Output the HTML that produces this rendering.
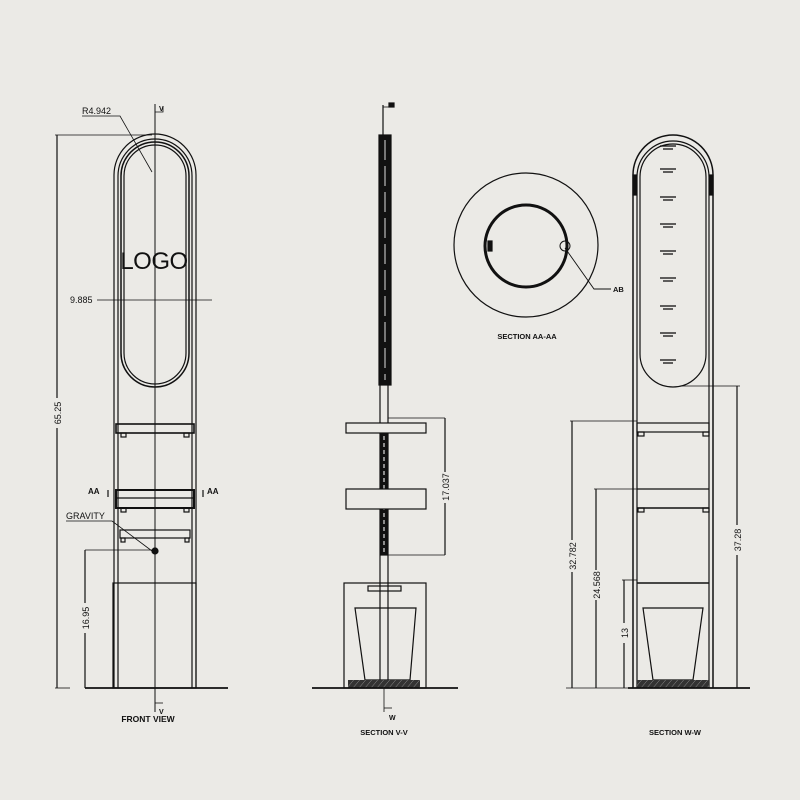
<!DOCTYPE html>
<html><head><meta charset="utf-8"><style>
html,body{margin:0;padding:0;background:#ebeae6;}
svg{display:block}
text{font-family:"Liberation Sans",sans-serif;fill:#111}
</style></head><body>
<svg width="800" height="800" viewBox="0 0 800 800" xmlns="http://www.w3.org/2000/svg">
<rect width="800" height="800" fill="#ebeae6"/>
<defs>
<pattern id="h" width="6" height="8" patternUnits="userSpaceOnUse" patternTransform="skewX(-40)">
<rect width="6" height="8" fill="#333"/><line x1="0" y1="0" x2="0" y2="8" stroke="#999" stroke-width="1"/>
</pattern>
</defs>
<g fill="none" stroke="#111" stroke-width="1.2">
<path d="M114,688 V175 A41,41 0 0 1 196,175 V688"/>
<path d="M118,688 V176 A37,37 0 0 1 192,176 V688"/>
<path d="M121,176 A34,34 0 0 1 189,176 V353 A34,34 0 0 1 121,353 Z" stroke-width="1.5"/>
<path d="M124,176 A31,31 0 0 1 186,176 V353 A31,31 0 0 1 124,353 Z"/>
<line x1="155" y1="104" x2="155" y2="712" stroke-width="1"/>
<rect x="116" y="424" width="78" height="9" stroke-width="1.6"/>
<rect x="116" y="490" width="78" height="18" stroke-width="2"/>
<line x1="116" y1="498" x2="194" y2="498"/>
<rect x="120" y="530" width="70" height="8"/>
<rect x="121" y="433" width="5" height="4"/><rect x="184" y="433" width="5" height="4"/>
<rect x="121" y="508" width="5" height="4"/><rect x="184" y="508" width="5" height="4"/>
<rect x="121" y="538" width="4" height="4"/><rect x="185" y="538" width="4" height="4"/>
<rect x="113" y="583" width="83" height="105"/>
<line x1="85" y1="688" x2="228" y2="688" stroke-width="1.8"/>
<line x1="57" y1="135" x2="57" y2="398"/><line x1="57" y1="428" x2="57" y2="688"/>
<line x1="55" y1="135" x2="152" y2="135" stroke-width="0.8"/>
<line x1="55" y1="688" x2="70" y2="688" stroke-width="0.8"/>
<line x1="97" y1="300" x2="212" y2="300" stroke-width="0.8"/>
<polyline points="82,116 120,116 152,172" stroke-width="0.8"/>
<line x1="85" y1="550" x2="155" y2="550" stroke-width="0.8"/>
<line x1="85" y1="550" x2="85" y2="603"/><line x1="85" y1="633" x2="85" y2="688"/>
<polyline points="66,521 112,521 152,551" stroke-width="0.8"/>
<circle cx="155" cy="551" r="3" fill="#111"/>
<line x1="108" y1="490" x2="108" y2="497"/><line x1="203" y1="490" x2="203" y2="497"/>
<polyline points="155,112 163,112 163,106" stroke-width="0.8"/>
<polyline points="155,703 163,703" stroke-width="0.8"/>
<rect x="379" y="135" width="12" height="250" fill="#111"/>
<line x1="385" y1="140" x2="385" y2="380" stroke="#ddd" stroke-width="1" stroke-dasharray="20,6"/>
<line x1="383" y1="105" x2="383" y2="135"/>
<line x1="380" y1="385" x2="380" y2="688"/><line x1="388" y1="385" x2="388" y2="688"/>
<rect x="381" y="433" width="6" height="122" fill="#111"/>
<line x1="384" y1="436" x2="384" y2="552" stroke="#ddd" stroke-dasharray="4,3"/>
<rect x="346" y="423" width="80" height="10" fill="#ebeae6"/>
<rect x="346" y="489" width="80" height="20" fill="#ebeae6"/>
<line x1="388" y1="418" x2="445" y2="418" stroke-width="0.8"/>
<line x1="388" y1="555" x2="445" y2="555" stroke-width="0.8"/>
<line x1="445" y1="418" x2="445" y2="472"/><line x1="445" y1="503" x2="445" y2="555"/>
<rect x="344" y="583" width="82" height="105"/>
<rect x="368" y="586" width="33" height="5"/>
<path d="M355,608 H416 L410,680 H365 Z"/>
<rect x="348" y="680" width="72" height="8" fill="url(#h)" stroke="none"/>
<line x1="312" y1="688" x2="458" y2="688" stroke-width="1.8"/>
<line x1="384" y1="688" x2="384" y2="712" stroke-width="0.8"/>
<polyline points="384,708 392,708" stroke-width="0.8"/>
<polyline points="383,107 391,107" stroke-width="0.8"/>
<rect x="389" y="103" width="5" height="4" fill="#111"/>
<circle cx="526" cy="245" r="72"/>
<circle cx="526" cy="246" r="41" stroke-width="3"/>
<rect x="488" y="241" width="4" height="10" fill="#111"/>
<circle cx="565" cy="246" r="5" stroke-width="1"/>
<polyline points="565,248 594,289 611,289" stroke-width="0.9"/>
<path d="M633,688 V175 A40,40 0 0 1 713,175 V688" stroke-width="1.5"/>
<path d="M637,688 V177 A36,36 0 0 1 709,177 V688"/>
<path d="M640,177 A33,33 0 0 1 706,177 V354 A33,33 0 0 1 640,354 Z"/>
<rect x="633" y="175" width="3" height="20" fill="#111"/><rect x="710" y="175" width="3" height="20" fill="#111"/>
<g stroke-width="1.3">
<line x1="660" y1="146" x2="676" y2="146"/><line x1="663" y1="149" x2="673" y2="149"/>
<line x1="660" y1="169" x2="676" y2="169"/><line x1="663" y1="172" x2="673" y2="172"/>
<line x1="660" y1="197" x2="676" y2="197"/><line x1="663" y1="200" x2="673" y2="200"/>
<line x1="660" y1="224" x2="676" y2="224"/><line x1="663" y1="227" x2="673" y2="227"/>
<line x1="660" y1="251" x2="676" y2="251"/><line x1="663" y1="254" x2="673" y2="254"/>
<line x1="660" y1="278" x2="676" y2="278"/><line x1="663" y1="281" x2="673" y2="281"/>
<line x1="660" y1="306" x2="676" y2="306"/><line x1="663" y1="309" x2="673" y2="309"/>
<line x1="660" y1="333" x2="676" y2="333"/><line x1="663" y1="336" x2="673" y2="336"/>
<line x1="660" y1="360" x2="676" y2="360"/><line x1="663" y1="363" x2="673" y2="363"/>
</g>
<rect x="637" y="423" width="72" height="9"/>
<rect x="638" y="432" width="6" height="4"/><rect x="703" y="432" width="6" height="4"/>
<line x1="637" y1="489" x2="709" y2="489"/><line x1="637" y1="508" x2="709" y2="508" stroke-width="1.6"/>
<rect x="638" y="508" width="6" height="4"/><rect x="703" y="508" width="6" height="4"/>
<line x1="637" y1="583" x2="709" y2="583" stroke-width="1.6"/>
<path d="M643,608 H703 L693,680 H653 Z"/>
<rect x="637" y="680" width="72" height="8" fill="url(#h)" stroke="none"/>
<line x1="628" y1="688" x2="750" y2="688" stroke-width="1.8"/>
<line x1="570" y1="421" x2="637" y2="421" stroke-width="0.8"/>
<line x1="572" y1="421" x2="572" y2="540"/><line x1="572" y1="572" x2="572" y2="688"/>
<line x1="594" y1="489" x2="637" y2="489" stroke-width="0.8"/>
<line x1="596" y1="489" x2="596" y2="570"/><line x1="596" y1="600" x2="596" y2="688"/>
<line x1="622" y1="580" x2="637" y2="580" stroke-width="0.8"/>
<line x1="624" y1="580" x2="624" y2="623"/><line x1="624" y1="643" x2="624" y2="688"/>
<line x1="680" y1="386" x2="740" y2="386" stroke-width="0.8"/>
<line x1="737" y1="386" x2="737" y2="525"/><line x1="737" y1="555" x2="737" y2="688"/>
<line x1="566" y1="688" x2="630" y2="688" stroke-width="0.8"/>
</g>
<text x="154" y="269" font-size="24" text-anchor="middle" fill="#222" style="letter-spacing:-0.5px">LOGO</text>
<text x="82" y="114" font-size="9">R4.942</text>
<text x="70" y="303" font-size="9">9.885</text>
<text transform="translate(61,413) rotate(-90)" font-size="9" text-anchor="middle">65.25</text>
<text transform="translate(89,618) rotate(-90)" font-size="9" text-anchor="middle">16.95</text>
<text x="66" y="519" font-size="9">GRAVITY</text>
<text x="88" y="494" font-size="8" font-weight="bold">AA</text>
<text x="207" y="494" font-size="8" font-weight="bold">AA</text>
<text x="159" y="111" font-size="7" font-weight="bold">V</text>
<text x="159" y="714" font-size="7" font-weight="bold">V</text>
<text x="148" y="722" font-size="8.5" text-anchor="middle" font-weight="bold">FRONT VIEW</text>
<text transform="translate(449,487) rotate(-90)" font-size="9" text-anchor="middle">17.037</text>
<text x="389" y="720" font-size="7" font-weight="bold">W</text>
<text x="384" y="735" font-size="7.5" text-anchor="middle" font-weight="bold">SECTION V-V</text>
<text x="613" y="292" font-size="7.5" font-weight="bold">AB</text>
<text x="527" y="339" font-size="7.5" text-anchor="middle" font-weight="bold">SECTION AA-AA</text>
<text transform="translate(576,556) rotate(-90)" font-size="9" text-anchor="middle">32.782</text>
<text transform="translate(600,585) rotate(-90)" font-size="9" text-anchor="middle">24.568</text>
<text transform="translate(628,633) rotate(-90)" font-size="9" text-anchor="middle">13</text>
<text transform="translate(741,540) rotate(-90)" font-size="9" text-anchor="middle">37.28</text>
<text x="675" y="735" font-size="7.5" text-anchor="middle" font-weight="bold">SECTION W-W</text>
</svg>
</body></html>
